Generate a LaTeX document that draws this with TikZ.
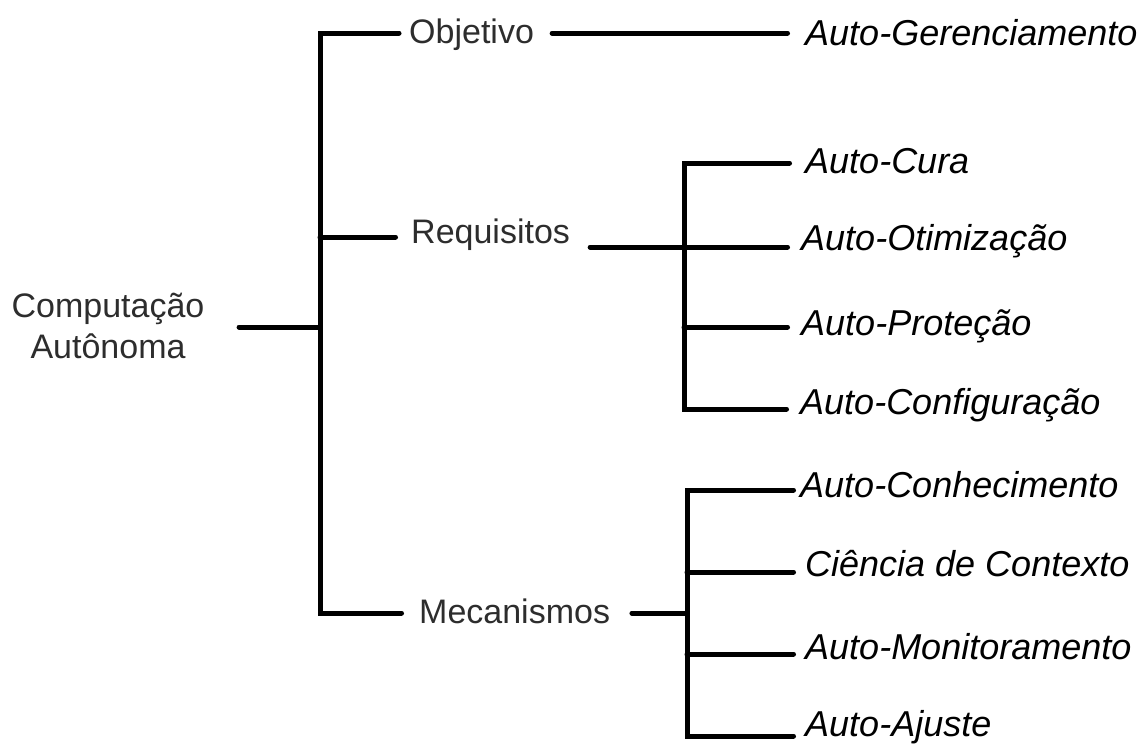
\documentclass[tikz,border=0pt]{standalone}
\usepackage{fontspec}
\setmainfont{Liberation Sans}
\definecolor{txtgray}{RGB}{45,45,45}
\begin{document}
\begin{tikzpicture}[x=1pt,y=-1pt,
  conn/.style={line width=5pt, line cap=round, line join=miter, draw=black},
  up/.style={inner sep=0pt, anchor=base west, text=txtgray, font=\fontsize{34}{41}\selectfont},
  it/.style={inner sep=0pt, anchor=base west, text=black, font=\fontsize{36}{43}\selectfont\itshape}]
\useasboundingbox (0,0) rectangle (1140,745);

% labels
\node[up, anchor=base, align=center] (root) at (108,358) {Computação\\Autônoma};
\node[up] (obj) at (409,43) {Objetivo};
\node[up] (req) at (411,243) {Requisitos};
\node[up] (mec) at (419,623) {Mecanismos};

\node[it] (ag)   at (805,45)  {Auto-Gerenciamento};
\node[it] (cura) at (805,173) {Auto-Cura};
\node[it] (otim) at (801,250) {Auto-Otimização};
\node[it] (prot) at (801,335) {Auto-Proteção};
\node[it] (conf) at (800,414) {Auto-Configuração};
\node[it] (conh) at (800,497) {Auto-Conhecimento};
\node[it] (cien) at (805,576) {Ciência de Contexto};
\node[it] (moni) at (805,659) {Auto-Monitoramento};
\node[it] (ajus) at (805,736.5) {Auto-Ajuste};

% junction points
\coordinate (b1) at (320,33);
\coordinate (b2) at (320,237);
\coordinate (b0) at (320,327);
\coordinate (b3) at (320,613);
\coordinate (r1) at (684,163);
\coordinate (r0) at (684,247);
\coordinate (r3) at (684,327);
\coordinate (r4) at (684,409);
\coordinate (m1) at (687,490);
\coordinate (m2) at (687,572);
\coordinate (m0) at (687,613);
\coordinate (m3) at (687,654);
\coordinate (m4) at (687,736);

% main tree
\draw[conn, shorten <=34.5pt] (root.east |- b0) -- (b0);
\draw[conn, shorten <=10pt, shorten >=17.5pt] (obj.west |- b1) -- (b1) -- (b3) -- (mec.west |- b3);
\draw[conn, shorten >=15.5pt] (b2) -- (req.west |- b2);

% objetivo
\draw[conn, shorten <=18pt, shorten >=17.5pt] (obj.east |- b1) -- (ag.west |- b1);

% requisitos
\draw[conn, shorten <=20pt, shorten >=13.5pt] (req.east |- r0) -- (otim.west |- r0);
\draw[conn, shorten <=15.5pt, shorten >=13.5pt] (cura.west |- r1) -- (r1) -- (r4) -- (conf.west |- r4);
\draw[conn, shorten >=13.5pt] (r3) -- (prot.west |- r3);

% mecanismos
\draw[conn, shorten <=21.7pt] (mec.east |- m0) -- (m0);
\draw[conn, shorten <=6.5pt, shorten >=11.5pt] (conh.west |- m1) -- (m1) -- (m4) -- (ajus.west |- m4);
\draw[conn, shorten >=11.5pt] (m2) -- (cien.west |- m2);
\draw[conn, shorten >=11.5pt] (m3) -- (moni.west |- m3);
\end{tikzpicture}
\end{document}
